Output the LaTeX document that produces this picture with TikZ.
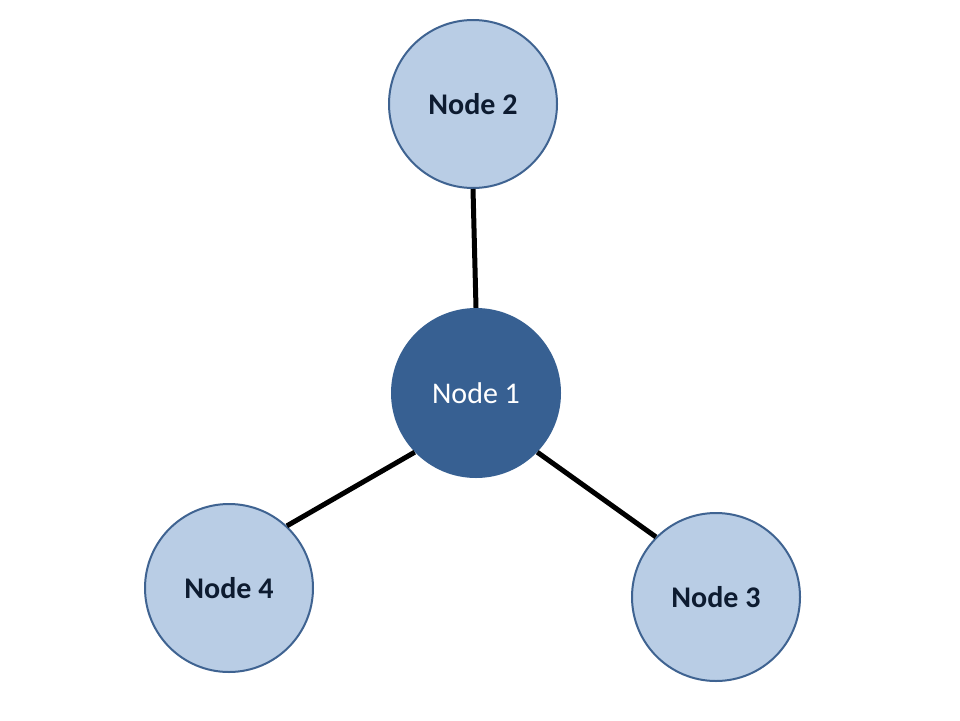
\documentclass[tikz,border=0pt]{standalone}
\usepackage{fontspec}
\setmainfont{Carlito}
\definecolor{lightfill}{HTML}{B9CDE5}
\definecolor{rimblue}{HTML}{3F6391}
\definecolor{darkfill}{HTML}{376092}
\definecolor{navytext}{HTML}{0D1B30}
\begin{document}
\begin{tikzpicture}[x=1pt,y=-1pt,
  outer/.style={circle,draw=rimblue,line width=2pt,fill=lightfill,minimum size=168pt,inner sep=0pt,
    font=\fontsize{30}{34}\selectfont\bfseries,text=navytext},
  hub/.style={circle,fill=darkfill,minimum size=170pt,inner sep=0pt,
    font=\fontsize{30}{34}\selectfont,text=white},
  link/.style={line width=5pt,black}]
\useasboundingbox (0,0) rectangle (960,720);
\node[hub] (n1) at (476,393) {Node 1};
\node[outer] (n2) at (473,104) {Node 2};
\node[outer] (n3) at (716,597) {Node 3};
\node[outer] (n4) at (229,588) {Node 4};
\draw[link] (n1.north) -- (n2.south);
\draw[link] (n1.316) -- (n3.135);
\draw[link] (n1.224) -- (n4.47);
\end{tikzpicture}
\end{document}
